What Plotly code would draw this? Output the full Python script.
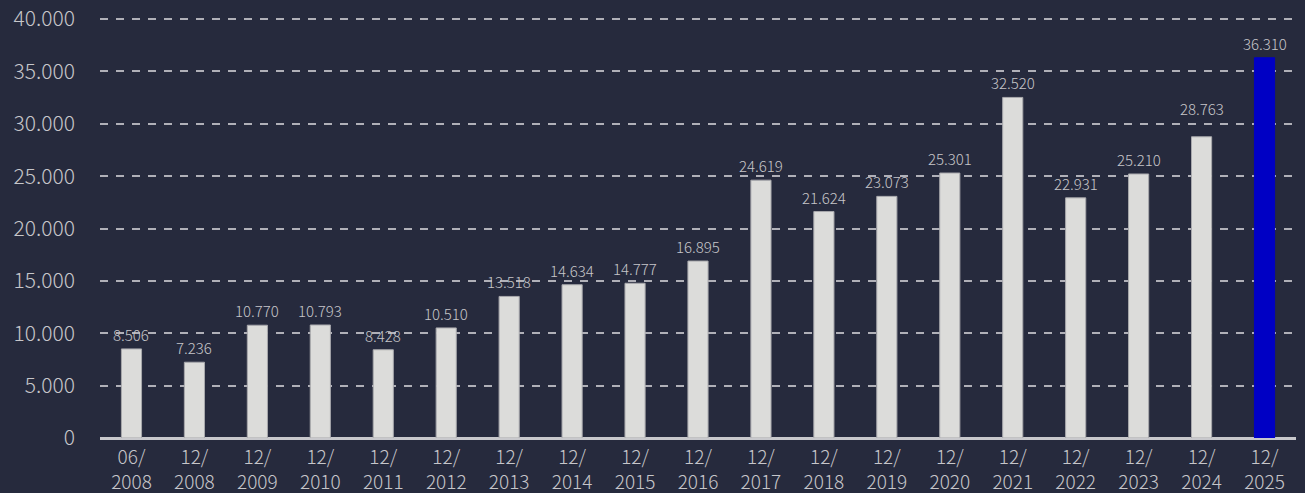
import plotly.graph_objects as go

# Period labels (month/year) and values
periods = ["06/<br>2008", "12/<br>2008", "12/<br>2009", "12/<br>2010", "12/<br>2011",
           "12/<br>2012", "12/<br>2013", "12/<br>2014", "12/<br>2015", "12/<br>2016",
           "12/<br>2017", "12/<br>2018", "12/<br>2019", "12/<br>2020", "12/<br>2021",
           "12/<br>2022", "12/<br>2023", "12/<br>2024", "12/<br>2025"]
values = [8506, 7236, 10770, 10793, 8428, 10510, 13518, 14634, 14777, 16895,
          24619, 21624, 23073, 25301, 32520, 22931, 25210, 28763, 36310]
y_ticks = [0, 5000, 10000, 15000, 20000, 25000, 30000, 35000, 40000]

bg = "#262a3d"
txt = "#c6c6ca"
bar_colors = ["#dcdcda"] * (len(values) - 1) + ["#0000c4"]
bar_edges = ["#a8a8ac"] * (len(values) - 1) + ["#0000c4"]
font_family = "Noto Sans CJK JP"


def fmt(v):
    return f"{v:,}".replace(",", ".")


fig = go.Figure(go.Bar(
    x=periods,
    y=values,
    marker=dict(color=bar_colors, line=dict(width=1, color=bar_edges)),
    width=0.32,
    hoverinfo="x+y",
))

# value labels above each bar; the 2024 label is lifted clear of the 30.000 gridline
for i, (p, v) in enumerate(zip(periods, values)):
    fig.add_annotation(
        x=p, y=v, xref="x", yref="y",
        text=fmt(v),
        showarrow=False,
        yanchor="bottom",
        yshift=2 + (14 if i == 17 else 0),
        font=dict(size=15, color=txt, family=font_family, weight=300),
    )

fig.update_layout(
    width=1305, height=493,
    paper_bgcolor=bg, plot_bgcolor=bg,
    margin=dict(l=100, r=9, t=17, b=55),
    separators=",.",
    font=dict(family=font_family, color=txt, weight=300),
    showlegend=False,
)
fig.update_xaxes(
    automargin=False,
    showgrid=False,
    showline=False,
    tickfont=dict(size=19, color=txt, family=font_family, weight=300),
    ticks="",
    ticklabelstandoff=6,
)
fig.update_yaxes(
    automargin=False,
    range=[0, 40200],
    tickvals=y_ticks,
    tickformat=",",
    showgrid=True,
    gridcolor="#b0b0b8",
    griddash="8px,8px",
    gridwidth=1.5,
    zeroline=True,
    zerolinecolor="#c8c8cc",
    zerolinewidth=2.5,
    showline=False,
    tickfont=dict(size=21, color=txt, family=font_family, weight=300),
    ticklabelstandoff=24,
)

fig.write_html("out.html")
